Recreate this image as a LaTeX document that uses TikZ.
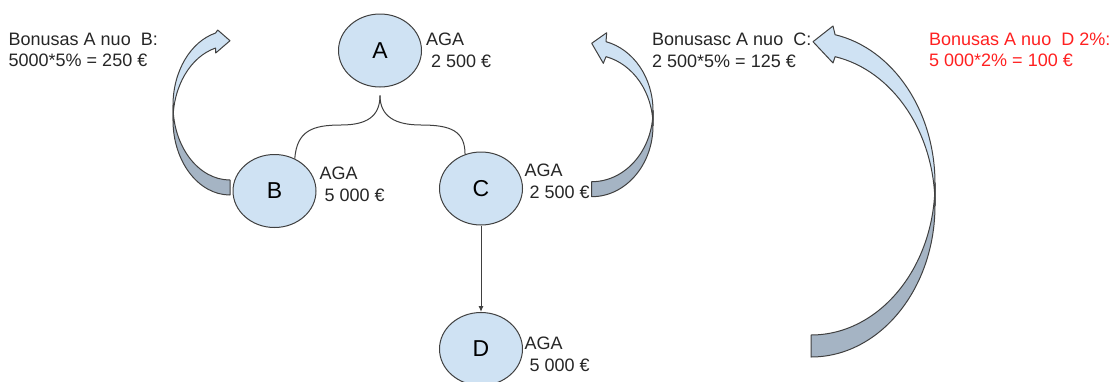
\documentclass[tikz,border=0pt]{standalone}
\usepackage{fontspec}
\setmainfont{Liberation Sans}
\usepackage{xcolor}
\usetikzlibrary{shapes.geometric,arrows.meta}
\definecolor{nodeblue}{HTML}{CFE2F3}
\definecolor{backblue}{HTML}{A5B4C4}
\definecolor{edgegrey}{HTML}{404040}
\definecolor{bonusred}{HTML}{FF2020}

\begin{document}
\begin{tikzpicture}[x=1pt,y=1pt,
  person/.style={ellipse,draw=edgegrey,line width=1pt,fill=nodeblue,
    minimum width=83pt,minimum height=73pt,inner sep=0pt,
    font=\fontsize{23}{26}\selectfont},
  amount/.style={align=left,inner sep=0pt,text=black!85,
    font=\fontsize{18}{22}\selectfont},
  bonus/.style={align=left,inner sep=0pt,text=black!85,
    font=\fontsize{18}{21}\selectfont},
  link/.style={draw=edgegrey,line width=1pt},
  front/.style={fill=nodeblue,draw=edgegrey,line width=1pt,line join=round},
  back/.style={fill=backblue,draw=edgegrey,line width=1pt,line join=round}]
\useasboundingbox (0,0) rectangle (1120,-381);

\node [person] (A) at (380,-50.5) {A};
\node [person] (B) at (274.5,-191) {B};
\node [person] (C) at (481,-188.5) {C};
\node [person] (D) at (481,-349) {D};

\node [amount,right] (agaA) at ([xshift=4pt]A.east) {AGA\\\ 2 500 €};
\node [amount,right] (agaB) at ([xshift=3pt,yshift=6.5pt]B.east) {AGA\\\ 5 000 €};
\node [amount,right] (agaC) at ([xshift=1.5pt,yshift=6.8pt]C.east) {AGA\\\ 2 500 €};
\node [amount,right] (agaD) at ([xshift=1.5pt,yshift=-5.5pt]D.east) {AGA\\\ 5 000 €};

\node [bonus,right] (bonusB) at (8.5,-49.4) {Bonusas A nuo\ \ B:\\5000*5\% = 250 €};
\node [bonus,right] (bonusC) at (652,-50.3) {Bonusasc A nuo\ \ C:\\2 500*5\% = 125 €};
\node [bonus,right,text=bonusred] (bonusD) at (929,-50) {Bonusas A nuo\ \ D 2\%:\\5 000*2\% = 100 €};

\draw [link] ([yshift=-8pt]A.south) .. controls (380,-117) and (366,-125) .. (341,-125)
  .. controls (312,-125) and (297,-131) .. (B.58);
\draw [link] ([yshift=-8pt]A.south) .. controls (380,-117) and (396,-125) .. (421,-125)
  .. controls (451,-125) and (465,-131) .. (C.115);
\draw [link,-{Latex[length=6pt,width=5pt]}] (C) -- (D);

% bonus arrow to B
\draw [back] (173,-105.3) arc [start angle=180,end angle=270,x radius=57pt,y radius=74.7pt]
  -- (230,-195) arc [start angle=270,end angle=180,x radius=57pt,y radius=74.7pt] -- cycle;
\draw [front] (173,-105.3) arc [start angle=180,end angle=104.7,x radius=57pt,y radius=74.7pt]
  -- (217.7,-30) -- (230,-40.7) -- (215.7,-53) -- (215.54,-48.04)
  arc [start angle=104.7,end angle=180,x radius=57pt,y radius=74.7pt] -- cycle;

% bonus arrow to C
\draw [back] (653,-110.7) arc [start angle=0,end angle=-90,x radius=61.3pt,y radius=71pt]
  -- (591.7,-196.7) arc [start angle=-90,end angle=0,x radius=61.3pt,y radius=71pt] -- cycle;
\draw [front] (653,-110.7) arc [start angle=0,end angle=76.5,x radius=61.3pt,y radius=71pt]
  -- (606.7,-32.7) -- (591.7,-43.3) -- (603.3,-63.3) -- (606,-56.66)
  arc [start angle=76.5,end angle=0,x radius=61.3pt,y radius=71pt] -- cycle;

% bonus arrow to D
\draw [back] (935,-183.4) arc [start angle=0,end angle=-90,x radius=124pt,y radius=151.6pt]
  -- (811,-357) arc [start angle=-90,end angle=0,x radius=124pt,y radius=151.6pt] -- cycle;
\draw [front] (935,-183.4) arc [start angle=0,end angle=78.8,x radius=124pt,y radius=151.6pt]
  -- (833,-26) -- (813,-41.7) -- (833,-63) -- (835.08,-56.68)
  arc [start angle=78.8,end angle=0,x radius=124pt,y radius=151.6pt] -- cycle;
\end{tikzpicture}
\end{document}
